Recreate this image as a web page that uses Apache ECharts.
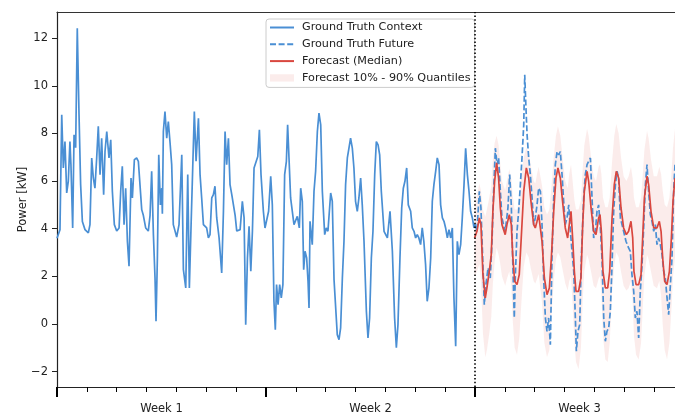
<!DOCTYPE html>
<html>
<head>
<meta charset="utf-8">
<script src="https://cdn.jsdelivr.net/npm/echarts@6/dist/echarts.min.js"></script>
<style>
html,body{margin:0;padding:0;background:#fff;}
#chart{width:675px;height:412px;}
</style>
</head>
<body>
<div id="chart"></div>
<script>
// ---- data (hours since start, power in kW) ----
const ctxHours = [0,2.4,3.8,5.1,6.4,7.8,9.1,10.4,11.2,12.6,13.7,15,16.3,17.7,19,20.4,22.5,25.2,26.5,27.9,29.2,30.5,31.9,33.2,34.6,35.9,37.5,38.6,40,41.8,43.2,44.5,46.1,48,49.9,51.2,52.5,53.9,55.2,56.6,57.9,59.5,60.6,62.2,64,65.4,66.7,68.1,69.4,71.3,73.4,74.8,76.1,77.5,78.8,79.6,80.7,81.8,83.1,84.2,84.7,85.5,86.8,88.2,89.5,90.9,92.2,93.5,96.2,98.1,100.3,101.6,103.5,105.1,106.4,107.8,109.1,110.4,111.8,113.7,115,116.3,117.7,120.3,121.7,123,124.4,125.7,127,128.4,130.3,132.4,133.8,135.1,136.4,137.8,139.1,140.5,143.2,144.5,147.2,149,150.4,151.7,153.1,154.4,155.8,157.1,158.4,160,161.4,162.7,164,165.9,167.2,168.5,170.1,171.8,173.1,174.4,175.5,176.5,177.7,179,180.3,181.6,183,184.4,185.4,186.5,187.8,190.5,192.1,193.2,194.8,195.9,197.2,198.3,199.4,200.7,201.8,202.6,203.4,204.4,205.2,206.6,207.9,209.3,210.6,212,213.3,215.2,216.5,217.8,220,221.3,222.7,224,225.3,226.7,228,229.4,230.7,232,233.4,234.7,236,237.4,238.7,240,241.4,242.7,244.1,245.4,246.8,248.7,250,251.3,252.7,254,255.4,256.7,258.1,259.4,260.7,262.9,265.6,267.7,269.6,271.4,272.8,274.1,275.7,277.1,278.4,279.7,281.1,282.4,284.3,285.6,287,288.3,289.6,290.9,292.3,293.6,294.9,296.3,297.6,299,300.4,301.7,303,304.4,305.7,307.1,308.4,309.8,311.1,312.4,313.8,315.1,316.5,317.8,319.1,320.5,321.8,323.1,324.5,325.8,327.2,328.5,329.9,331.2,332.5,333.9,335.2,336];
const ctxValues = [3.6,3.96,8.78,6.55,7.66,5.5,6.0,7.66,6.7,4.03,7.94,7.4,12.42,8.8,5.85,4.3,3.96,3.82,4.17,6.97,6.13,5.7,6.97,8.3,6.27,7.8,5.43,7.24,8.08,6.97,7.73,5.57,4.17,3.9,4.03,5.57,6.62,4.17,5.7,3.46,2.42,6.13,5.29,6.9,6.97,6.83,6.9,4.8,4.56,4.03,3.9,4.56,6.41,3.75,1.93,0.11,2.77,7.1,5.0,5.7,4.63,8.08,8.92,7.8,8.5,7.6,6.69,4.17,3.65,4.17,7.1,2.28,1.51,6.27,1.51,4.17,6.55,8.92,6.83,8.64,6.27,5.29,4.17,4.03,3.61,3.75,5.29,5.43,5.78,4.45,3.61,2.14,4.73,8.08,6.69,7.8,5.85,5.43,4.56,3.9,3.96,5.15,4.45,-0.03,2.77,4.1,2.21,3.9,6.55,6.62,7.03,8.15,6.27,4.73,4.03,3.96,4.73,6.2,5.0,0.95,-0.24,1.65,0.81,1.65,1.09,1.65,6.27,6.83,8.36,6.97,5.29,4.17,4.17,4.52,4.03,5.7,5.15,2.28,3.05,2.77,1.79,0.67,4.31,4.31,3.33,5.57,6.41,8.08,8.85,8.36,5.57,3.75,4.03,3.89,5.5,5.15,1.86,1.79,-0.45,-0.66,-0.17,1.93,3.47,5.85,6.97,7.38,7.8,7.38,6.55,5.15,4.73,5.29,6.13,5.0,3.47,0.53,-0.59,0.25,2.77,3.89,6.27,7.66,7.52,7.1,5.57,3.89,3.61,4.73,3.05,0.25,-1.0,-0.03,2.77,4.87,5.7,5.99,6.55,5.0,4.73,4.03,3.89,3.61,3.75,3.61,3.33,4.03,3.47,2.49,0.95,1.51,2.77,5.15,5.85,6.41,6.97,6.69,5.0,4.45,4.31,4.03,3.61,3.96,3.61,4.03,1.09,-0.94,3.47,2.91,3.33,4.45,5.85,7.38,6.27,5.57,4.73,4.45,4.03,4.2];

const futHours = [336,337.6,339.5,340.8,342.2,343.5,344.8,346.5,348.3,349.7,351,352.4,353.7,355,356.4,357.7,360.3,362.5,363.9,365.2,366.3,367.6,368.4,369.8,371.1,372.5,373.8,375.2,376,377,377.9,379.2,380.5,381.9,383.2,384.5,385.9,387.2,388.6,389.9,391.2,392.6,393.9,395.2,396.6,397.9,399.3,400.6,402,403.3,404.6,406,407.3,408.6,410,411.4,412.7,414,415.4,416.7,417.5,418.8,420.2,421.5,423.4,424.7,426.1,427.4,428.8,430.1,431.4,432.8,434.1,435.4,436.8,438.1,439.5,440.8,442.1,443.5,444.8,446.2,447.5,448.9,450.2,451.5,452.9,455.5,457.4,459.5,460.9,462.2,463.6,464.9,466.2,467.6,468.9,470.3,471.6,473,474.3,475.6,477,478.3,479.7,481,482.3,483.6,485,486.4,487.7,489,490.4,491.7,493.1,494.4,495.7,496.8];
const futValues = [4.17,3.89,5.57,4.87,2.77,0.81,1.65,2.35,1.93,3.47,5.57,7.38,6.69,6.97,5.57,4.45,3.89,4.87,6.27,5.0,2.77,0.25,1.93,3.89,4.73,5.85,6.97,8.36,10.46,9.06,7.94,6.97,6.27,5.29,4.17,4.45,5.0,5.71,5.57,4.17,1.93,0.25,-0.31,0.25,-0.87,2.77,5.29,6.69,7.24,7.1,7.24,6.27,5.15,4.17,4.45,5.0,3.89,3.05,2.21,0.25,-1.15,-0.31,-0.03,2.77,5.29,6.27,6.69,6.83,6.97,5.29,3.61,3.89,4.73,5.0,4.03,2.77,0.25,-0.73,-0.31,-0.17,0.53,2.49,4.73,5.85,6.41,6.13,4.45,3.89,3.47,3.19,3.05,2.07,1.37,0.25,0.53,-0.59,1.37,2.49,4.03,5.85,6.69,5.57,4.59,4.31,3.89,4.17,3.33,3.61,3.33,2.91,2.21,1.93,1.09,0.39,1.65,2.77,5.57,6.69];

const fcHours = [335.7,337.6,339.5,340.8,342.4,344.3,345.6,347.5,349.1,350.4,351.8,353.4,355,356.4,357.7,360.3,361.7,363.6,365.2,366.3,367.9,369.8,371.6,373.2,375.2,377.3,379.2,381,383.2,384.5,385.9,387.2,389.9,391.8,393.9,395.8,397.4,399.3,401.1,402.7,404.6,406.4,408.6,410.5,411.8,413.2,414.5,415.9,417.2,419.3,421.2,422.6,423.9,426.1,427.4,429.3,431.4,433.3,435.4,436.5,437.6,438.9,440.8,442.7,444.3,446.2,448,449.6,451.5,453.4,455.5,457.7,459.5,461.4,462.8,463.8,465.5,467.6,469.5,470.8,472.2,474.3,475.6,477.5,479.7,482.3,484.2,485.6,486.9,488.5,490.4,492.3,493.9,495.2,496.8];
const fcMedian = [3.61,3.89,4.45,4.17,2.07,1.09,1.51,2.21,2.91,4.73,5.99,6.76,6.13,4.87,4.17,3.75,4.17,4.59,4.17,2.91,1.79,1.65,2.07,3.61,5.57,6.55,6.13,5.15,4.17,4.03,4.31,4.59,3.47,1.93,1.23,1.51,2.77,4.73,6.13,6.55,6.13,5.15,4.03,3.61,4.17,4.73,3.61,2.21,1.37,1.37,1.93,4.17,5.57,6.41,5.99,4.87,3.89,3.75,4.45,4.59,3.89,2.21,1.51,1.51,2.21,4.45,5.85,6.41,6.13,4.87,4.03,3.75,3.89,4.31,3.61,2.21,1.65,1.65,2.07,3.61,5.29,6.2,5.85,4.73,4.03,4.03,4.31,3.89,2.77,1.79,1.65,2.21,3.61,5.15,6.13];
const fcUpper = [5.0,5.4,5.9,5.6,4.8,4.5,4.8,5.3,5.8,6.9,7.6,7.9,7.5,6.7,6.0,5.6,6.0,6.5,6.1,5.4,4.8,4.8,5.2,6.2,7.0,7.4,7.2,6.6,6.0,5.9,6.3,6.6,5.8,4.9,4.6,4.8,5.7,7.0,7.9,8.3,7.9,7.0,6.0,5.7,6.3,6.7,6.0,5.2,4.8,4.8,5.2,6.5,7.5,8.2,7.9,7.0,6.2,6.0,6.6,6.7,6.3,5.3,4.9,4.9,5.3,6.8,7.9,8.4,8.0,7.0,6.2,6.0,6.2,6.6,6.1,5.3,4.9,4.9,5.3,6.2,7.3,8.1,7.8,6.9,6.2,6.2,6.6,6.3,5.6,5.0,4.9,5.3,6.3,7.4,8.2];
const fcLower = [2.0,2.2,2.5,1.8,-0.4,-1.4,-1.1,-0.4,0.3,1.7,2.6,3.2,2.9,2.5,2.0,1.6,1.9,2.2,1.6,0.2,-1.0,-1.3,-0.6,0.8,2.4,3.0,2.8,2.3,1.8,1.7,1.9,2.1,0.9,-0.8,-1.4,-1.1,0.2,1.8,2.7,3.0,2.8,2.3,1.7,1.4,1.8,2.0,0.8,-0.7,-1.6,-1.9,-1.0,1.0,2.2,2.9,2.7,2.2,1.6,1.5,1.9,2.0,1.3,-0.5,-1.5,-1.6,-0.8,1.3,2.5,3.0,2.8,2.2,1.6,1.4,1.5,1.8,0.9,-0.5,-1.3,-1.5,-0.8,0.6,2.0,2.9,2.7,2.2,1.6,1.5,1.8,1.2,0.0,-1.1,-1.5,-0.8,0.6,2.0,2.8];

const splitHour = 336;
const yTicks = [-2, 0, 2, 4, 6, 8, 10, 12];
const weekTicks = [0, 168, 336];
const dayTicks = [24, 48, 72, 96, 120, 144, 192, 216, 240, 264, 288, 312, 360, 384, 408, 432, 456, 480];
const weekLabelPos = [84, 252, 420];
const weekLabels = ['Week 1', 'Week 2', 'Week 3'];

// ---- chart ----
const BLUE = '#4a8fd4';
const RED = '#d9473f';
const BAND = 'rgba(217,71,63,0.10)';
const FONT = 'DejaVu Sans';
const X_MIN = 0, X_MAX = 496.8;

function pairs(xs, ys) { return xs.map((x, i) => [x, ys[i]]); }
function fmtMinus(v) { return v < 0 ? '\u2212' + Math.abs(v) : String(v); }

const chart = echarts.init(document.getElementById('chart'), null, {renderer: 'canvas'});
chart.setOption({
  animation: false,
  backgroundColor: '#fff',
  textStyle: {fontFamily: FONT},
  grid: {left: 57, right: 0, top: 12, bottom: 25, containLabel: false, outerBoundsMode: 'none'},
  legend: {
    orient: 'vertical',
    left: 266, top: 19,
    padding: [3, 4, 4, 3],
    itemWidth: 24, itemHeight: 11, itemGap: 5.8,
    backgroundColor: 'rgba(255,255,255,0.85)',
    borderColor: '#cccccc', borderWidth: 1, borderRadius: 3,
    textStyle: {fontFamily: FONT, fontSize: 11.2, color: '#222', padding: [0, 0, 0, 3]},
    data: [
      {name: 'Ground Truth Context', icon: 'inherit', itemStyle: {opacity: 0}},
      {name: 'Ground Truth Future', icon: 'inherit', itemStyle: {opacity: 0}},
      {name: 'Forecast (Median)', icon: 'inherit', itemStyle: {opacity: 0}},
      {name: 'Forecast 10% - 90% Quantiles', icon: 'path://M0,0H23V7H0Z'}
    ]
  },
  xAxis: [
    {
      type: 'value', min: X_MIN, max: X_MAX, position: 'bottom',
      axisLine: {show: true, onZero: false, lineStyle: {color: '#222', width: 1.2}},
      axisTick: {show: true, customValues: weekTicks, length: 10, lineStyle: {color: '#000', width: 2}},
      axisLabel: {show: true, customValues: weekLabelPos, margin: 16, fontSize: 11.5, color: '#222', fontFamily: FONT,
        formatter: v => { const i = weekLabelPos.indexOf(v); return i >= 0 ? weekLabels[i] : ''; }},
      splitLine: {show: false}
    },
    {
      type: 'value', min: X_MIN, max: X_MAX, position: 'bottom',
      axisLine: {show: false, onZero: false},
      axisTick: {show: true, customValues: dayTicks, length: 5, lineStyle: {color: '#000', width: 1}},
      axisLabel: {show: false},
      splitLine: {show: false}
    },
    {
      type: 'value', min: X_MIN, max: X_MAX, position: 'top',
      axisLine: {show: true, onZero: false, lineStyle: {color: '#333', width: 1.2}},
      axisTick: {show: false}, axisLabel: {show: false}, splitLine: {show: false}
    }
  ],
  yAxis: {
    type: 'value', min: -2.65, max: 13.1,
    name: 'Power [kW]', nameLocation: 'middle', nameGap: 28, nameMoveOverlap: false,
    nameTextStyle: {fontFamily: FONT, fontSize: 11.5, color: '#222'},
    axisLine: {show: true, onZero: false, lineStyle: {color: '#222', width: 1.2}},
    axisTick: {show: true, customValues: yTicks, length: 5, lineStyle: {color: '#222', width: 1}},
    axisLabel: {show: true, customValues: yTicks, margin: 9, fontSize: 11.5, color: '#222', fontFamily: FONT, formatter: fmtMinus},
    splitLine: {show: false}
  },
  series: [
    {
      name: 'Forecast 10% - 90% Quantiles',
      type: 'custom',
      coordinateSystem: 'cartesian2d',
      xAxisIndex: 0, yAxisIndex: 0,
      itemStyle: {color: BAND},
      z: 1,
      clip: true,
      data: [[fcHours[0], fcMedian[0]]],
      renderItem: function (params, api) {
        if (params.dataIndex !== 0) return null;
        const pts = [];
        for (let i = 0; i < fcHours.length; i++) pts.push(api.coord([fcHours[i], fcUpper[i]]));
        for (let i = fcHours.length - 1; i >= 0; i--) pts.push(api.coord([fcHours[i], fcLower[i]]));
        return {type: 'polygon', shape: {points: pts}, style: {fill: BAND, stroke: null}};
      }
    },
    {
      name: 'Ground Truth Context', type: 'line', xAxisIndex: 0,
      data: pairs(ctxHours, ctxValues), symbol: 'none', z: 3,
      lineStyle: {color: BLUE, width: 1.7}, itemStyle: {color: BLUE},
      markLine: {
        silent: true, symbol: 'none', label: {show: false},
        lineStyle: {color: '#000', type: [1.5, 2.2], width: 1.6},
        data: [{xAxis: splitHour}]
      }
    },
    {
      name: 'Ground Truth Future', type: 'line', xAxisIndex: 0,
      data: pairs(futHours, futValues), symbol: 'none', z: 3,
      lineStyle: {color: BLUE, width: 1.7, type: [6, 2.6]}, itemStyle: {color: BLUE}
    },
    {
      name: 'Forecast (Median)', type: 'line', xAxisIndex: 0,
      data: pairs(fcHours, fcMedian), symbol: 'none', z: 4,
      lineStyle: {color: RED, width: 1.7}, itemStyle: {color: RED}
    }
  ]
});
</script>
</body>
</html>
